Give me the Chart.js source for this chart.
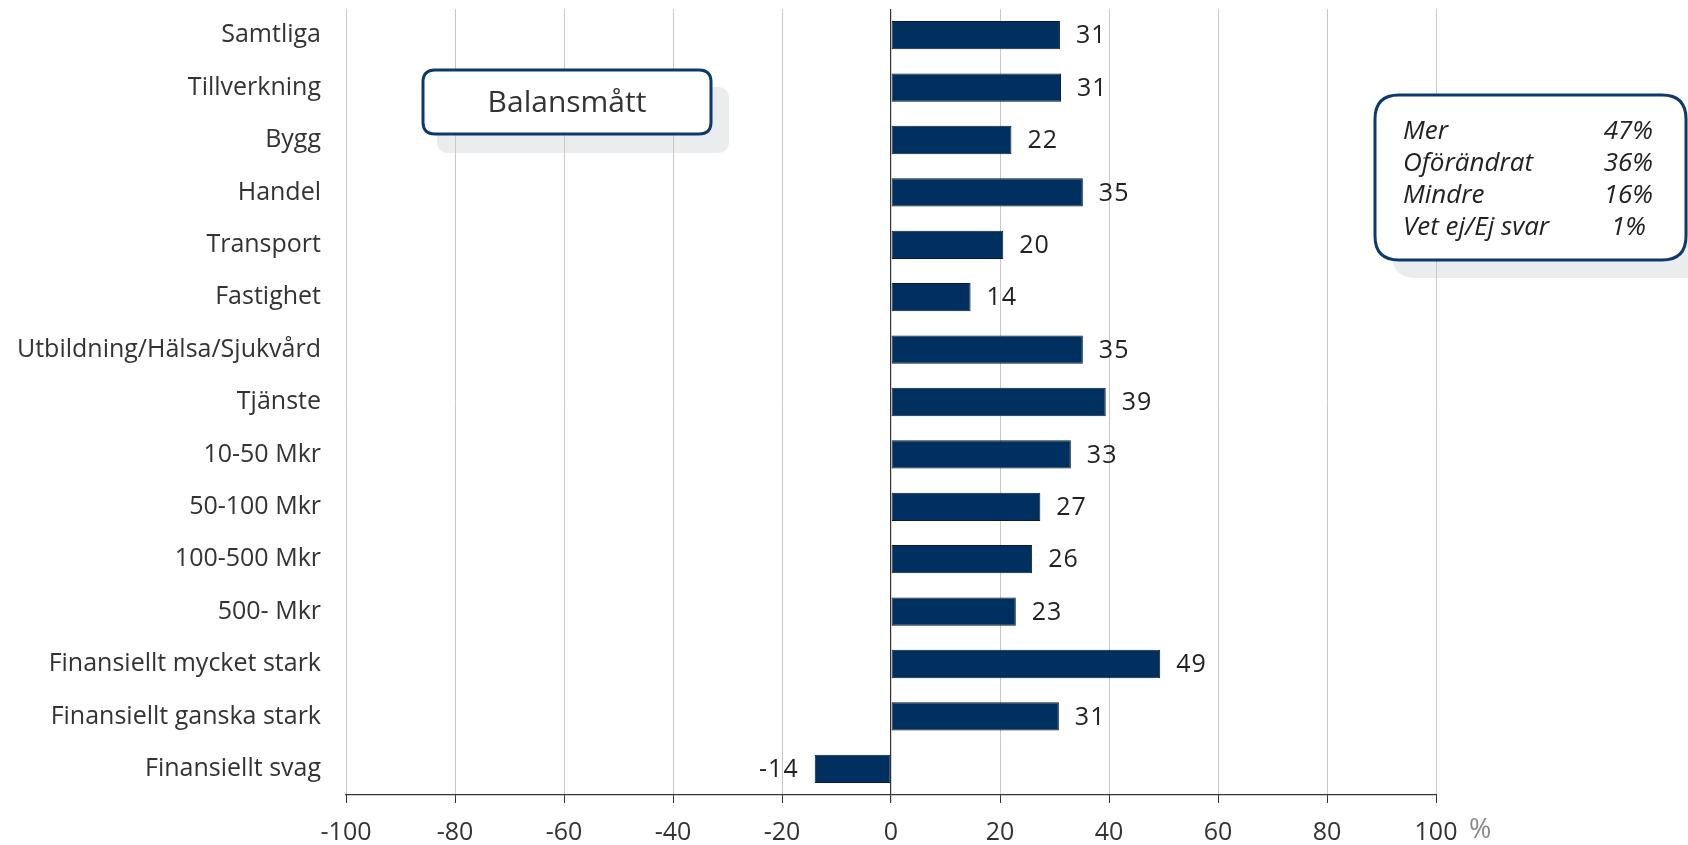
<!DOCTYPE html>
<html>
<head>
<meta charset="utf-8">
<script src="https://cdn.jsdelivr.net/npm/chart.js@4/dist/chart.umd.min.js"></script>
<style>
  html, body { margin: 0; padding: 0; background: #fff; }
  #wrap { width: 1688px; height: 845px; position: relative; }
</style>
</head>
<body>
<div id="wrap"><canvas id="chart"></canvas></div>
<script>
const categories = [
  'Samtliga', 'Tillverkning', 'Bygg', 'Handel', 'Transport', 'Fastighet',
  'Utbildning/Hälsa/Sjukvård', 'Tjänste', '10-50 Mkr', '50-100 Mkr',
  '100-500 Mkr', '500- Mkr', 'Finansiellt mycket stark',
  'Finansiellt ganska stark', 'Finansiellt svag'
];
// bar lengths (labels are the rounded values)
const balans = [31, 31.2, 22.1, 35.2, 20.6, 14.6, 35.2, 39.4, 33, 27.4, 25.9, 22.9, 49.4, 30.8, -14];
const balansLabels = ['31', '31', '22', '35', '20', '14', '35', '39', '33', '27', '26', '23', '49', '31', '-14'];
const legendNames = ['Mer', 'Oförändrat', 'Mindre', 'Vet ej/Ej svar'];
const legendValues = ['47%', '36%', '16%', '1%'];
const boxTitle = 'Balansmått';
const unitLabel = '%';

const FONT = '"Open Sans", Roboto, sans-serif';

function roundRect(ctx, x, y, w, h, r) {
  ctx.beginPath();
  ctx.moveTo(x + r, y);
  ctx.lineTo(x + w - r, y);
  ctx.quadraticCurveTo(x + w, y, x + w, y + r);
  ctx.lineTo(x + w, y + h - r);
  ctx.quadraticCurveTo(x + w, y + h, x + w - r, y + h);
  ctx.lineTo(x + r, y + h);
  ctx.quadraticCurveTo(x, y + h, x, y + h - r);
  ctx.lineTo(x, y + r);
  ctx.quadraticCurveTo(x, y, x + r, y);
  ctx.closePath();
}

// shadows under grid, boxes on top
const boxes = {
  id: 'boxes',
  beforeDraw(chart) {
    const ctx = chart.ctx;
    ctx.save();
    ctx.fillStyle = '#ebecee';
    roundRect(ctx, 437, 87, 292, 66, 12);
    ctx.fill();
    roundRect(ctx, 1392, 112, 330, 166, 24);
    ctx.fill();
    ctx.restore();
  },
  afterDraw(chart) {
    const ctx = chart.ctx;
    ctx.save();
    ctx.lineWidth = 3;
    ctx.strokeStyle = '#0d3a6c';
    ctx.fillStyle = '#fff';
    roundRect(ctx, 423, 70, 288, 64, 12);
    ctx.fill();
    ctx.stroke();
    ctx.fillStyle = '#333';
    ctx.font = '30px ' + FONT;
    ctx.textAlign = 'center';
    ctx.textBaseline = 'middle';
    ctx.fillText(boxTitle, 567, 103);

    ctx.fillStyle = '#fff';
    roundRect(ctx, 1375, 95, 311, 165, 24);
    ctx.fill();
    ctx.stroke();
    ctx.fillStyle = '#222';
    ctx.font = 'italic 26px ' + FONT;
    legendNames.forEach((n, i) => {
      const y = 132 + i * 32;
      ctx.textAlign = 'left';
      ctx.fillText(n, 1403, y);
      ctx.textAlign = 'right';
      ctx.fillText(legendValues[i], i === 3 ? 1646 : 1653, y);
    });

    // unit after x axis
    ctx.fillStyle = '#888';
    ctx.font = '27px ' + FONT;
    ctx.textAlign = 'left';
    ctx.fillText(unitLabel, 1469, 830);
    ctx.restore();
  }
};

const valueLabels = {
  id: 'valueLabels',
  afterDatasetsDraw(chart) {
    const ctx = chart.ctx;
    const meta = chart.getDatasetMeta(0);
    ctx.save();
    ctx.fillStyle = '#222';
    ctx.font = '25px ' + FONT;
    ctx.letterSpacing = '1px';
    ctx.textBaseline = 'middle';
    meta.data.forEach((el, i) => {
      const v = balans[i];
      if (v >= 0) {
        ctx.textAlign = 'left';
        ctx.fillText(balansLabels[i], el.x + 16, el.y + 1);
      } else {
        ctx.textAlign = 'right';
        ctx.fillText(balansLabels[i], el.x - 16, el.y + 1);
      }
    });
    ctx.restore();
  }
};

new Chart(document.getElementById('chart'), {
  type: 'bar',
  data: {
    labels: categories,
    datasets: [{
      data: balans,
      backgroundColor: '#00305f',
      borderColor: '#0b1a2b',
      borderWidth: 1,
      borderSkipped: false,
      barPercentage: 0.54,
      categoryPercentage: 1
    }]
  },
  options: {
    indexAxis: 'y',
    responsive: true,
    maintainAspectRatio: false,
    animation: false,
    layout: { padding: { top: 9, right: 252, left: 0, bottom: 0 } },
    plugins: {
      legend: { display: false },
      tooltip: { enabled: false }
    },
    scales: {
      x: {
        min: -100,
        max: 100,
        afterFit(scale) {
          scale.height = 50;
          scale.paddingLeft = 0;
          scale.paddingRight = 0;
        },
        ticks: {
          stepSize: 20,
          color: '#333',
          padding: 15,
          font: { family: FONT, size: 25 }
        },
        grid: {
          color: ctx => (ctx.tick && ctx.tick.value === 0) ? '#333' : '#c8c8c8',
          lineWidth: ctx => (ctx.tick && ctx.tick.value === 0) ? 1.2 : 1,
          drawTicks: true,
          tickLength: 8,
          tickColor: '#333'
        },
        border: { display: true, color: '#333', width: 1.2 }
      },
      y: {
        afterFit(scale) {
          scale.width = 346;
          scale.paddingTop = 0;
          scale.paddingBottom = 0;
        },
        ticks: {
          color: '#333',
          padding: 25,
          font: { family: FONT, size: 25 }
        },
        grid: { display: false, drawTicks: false },
        border: { display: false }
      }
    }
  },
  plugins: [boxes, valueLabels]
});
</script>
</body>
</html>
